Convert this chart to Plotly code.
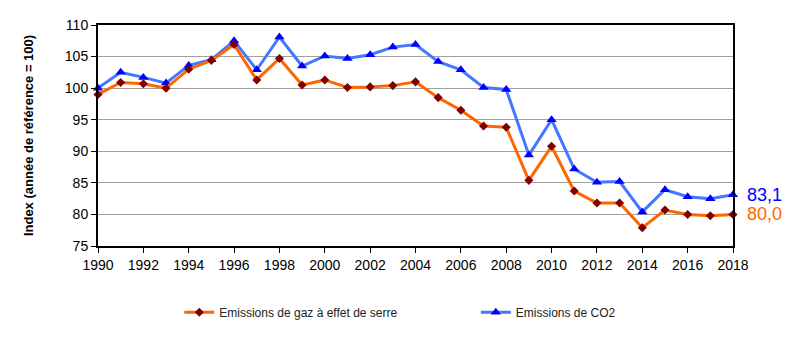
import plotly.graph_objects as go

years = list(range(1990, 2019))
ghg = [99.0, 100.9, 100.7, 100.0, 103.0, 104.4, 106.9, 101.3, 104.7, 100.5,
       101.3, 100.1, 100.2, 100.4, 101.0, 98.5, 96.5, 94.0, 93.8, 85.4,
       90.8, 83.7, 81.8, 81.8, 77.9, 80.7, 80.0, 79.8, 80.0]
co2 = [100.0, 102.5, 101.7, 100.8, 103.6, 104.5, 107.5, 102.9, 108.1, 103.5,
       105.1, 104.7, 105.3, 106.5, 106.9, 104.2, 102.9, 100.1, 99.8, 89.4,
       95.0, 87.2, 85.1, 85.2, 80.4, 83.9, 82.8, 82.5, 83.1]
name_ghg = "Emissions de gaz à effet de serre"
name_co2 = "Emissions de CO2"
label_ghg = "80,0"
label_co2 = "83,1"

FONT = "Liberation Sans, Arial, sans-serif"

fig = go.Figure()
fig.add_trace(go.Scatter(
    x=years, y=co2, name=name_co2, mode="lines+markers",
    line=dict(color="#4477FF", width=3),
    marker=dict(symbol="triangle-up", size=9, color="#0000FF"),
    legend="legend2"))
fig.add_trace(go.Scatter(
    x=years, y=ghg, name=name_ghg, mode="lines+markers",
    line=dict(color="#FF6600", width=3),
    marker=dict(symbol="diamond", size=7, color="#800000"),
    legend="legend"))

fig.add_annotation(x=years[-1], y=co2[-1], text=label_co2, showarrow=False,
                   xanchor="left", xshift=12, font=dict(size=18, color="#0000FF", family=FONT))
fig.add_annotation(x=years[-1], y=ghg[-1], text=label_ghg, showarrow=False,
                   xanchor="left", xshift=12, font=dict(size=18, color="#FF6600", family=FONT))

fig.update_layout(
    width=800, height=340,
    margin=dict(l=98, r=67, t=25, b=94),
    plot_bgcolor="white", paper_bgcolor="white",
    font=dict(family=FONT, size=14, color="black"),
    showlegend=True,
    legend=dict(orientation="h", x=0.128, y=-0.30, xanchor="left", yanchor="middle",
                font=dict(size=12, color="#222222"), bgcolor="rgba(0,0,0,0)"),
    legend2=dict(orientation="h", x=0.595, y=-0.30, xanchor="left", yanchor="middle",
                 font=dict(size=12, color="#222222"), bgcolor="rgba(0,0,0,0)"),
    xaxis=dict(range=[1990, 2018], tickmode="array", tickvals=list(range(1990, 2019, 2)),
               ticks="outside", ticklen=5, tickcolor="black",
               showline=True, linecolor="black", linewidth=2, mirror=True,
               showgrid=False, zeroline=False, tickfont=dict(size=14)),
    yaxis=dict(range=[75, 110], dtick=5, ticks="outside", ticklen=5, tickcolor="black",
               showline=True, linecolor="black", linewidth=2, mirror=True,
               showgrid=True, gridcolor="#A0A0A0", gridwidth=1, zeroline=False,
               tickfont=dict(size=14),
               title=dict(text="<b>Index (année de référence = 100)</b>",
                          font=dict(size=13), standoff=28)),
)
for tr in fig.data:
    tr.cliponaxis = False

fig.write_html("out.html")
